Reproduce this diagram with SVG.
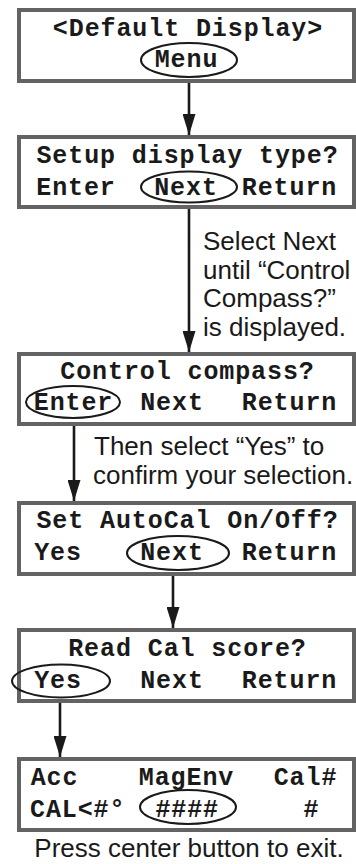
<svg xmlns="http://www.w3.org/2000/svg" width="356" height="864" viewBox="0 0 356 864">
<style>
.box{fill:#fff;stroke:#636363;stroke-width:4}
.sel{fill:none;stroke:#1a1a1a;stroke-width:2}
.m{font-family:"Liberation Mono",monospace;font-weight:bold;font-size:25px;letter-spacing:0.9px;fill:#1a1a1a;text-anchor:middle}
.ms{text-anchor:start}
.h{font-family:"Liberation Sans",Arial,sans-serif;font-size:26px;fill:#1a1a1a}
.conn line{stroke:#1a1a1a;stroke-width:2.6}
</style>
<defs>
<marker id="ah" markerUnits="userSpaceOnUse" markerWidth="22" markerHeight="13" refX="21" refY="6.5" orient="auto">
<path d="M0,0 L21,6.5 L0,13 z" fill="#1a1a1a"/>
</marker>
</defs>
<rect width="356" height="864" fill="#fff"/>
<g id="n1">
<rect class="box" x="19" y="10" width="335" height="71"/>
<text class="m" x="188" y="36">&lt;Default Display&gt;</text>
<ellipse class="sel" cx="189" cy="60" rx="48" ry="17"/>
<text class="m" x="186.5" y="67">Menu</text>
</g>
<g id="n2">
<rect class="box" x="19" y="137" width="335" height="70"/>
<text class="m" x="187.5" y="163">Setup display type?</text>
<text class="m" x="76" y="195">Enter</text>
<ellipse class="sel" cx="189" cy="187" rx="48" ry="15.5"/>
<text class="m" x="186" y="195">Next</text>
<text class="m" x="289.5" y="195">Return</text>
</g>
<g id="n3">
<rect class="box" x="19" y="354" width="335" height="70"/>
<text class="m" x="187.5" y="379">Control compass?</text>
<ellipse class="sel" cx="73" cy="402" rx="47" ry="16"/>
<text class="m" x="73.5" y="410">Enter</text>
<text class="m" x="172" y="410">Next</text>
<text class="m" x="289.5" y="410">Return</text>
</g>
<g id="n4">
<rect class="box" x="19" y="503" width="335" height="71"/>
<text class="m" x="187.5" y="528">Set AutoCal On/Off?</text>
<text class="m" x="58" y="560">Yes</text>
<ellipse class="sel" cx="178" cy="553" rx="51" ry="17"/>
<text class="m" x="172" y="560">Next</text>
<text class="m" x="289.5" y="560">Return</text>
</g>
<g id="n5">
<rect class="box" x="19" y="630" width="335" height="71"/>
<text class="m" x="187.5" y="656">Read Cal score?</text>
<ellipse class="sel" cx="61" cy="681" rx="49" ry="16.5"/>
<text class="m" x="58" y="688">Yes</text>
<text class="m" x="172" y="688">Next</text>
<text class="m" x="289.5" y="688">Return</text>
</g>
<g id="n6">
<rect class="box" x="19" y="759" width="335" height="71"/>
<text class="m" x="54.5" y="785">Acc</text>
<text class="m" x="186.5" y="785">MagEnv</text>
<text class="m" x="305.5" y="785">Cal#</text>
<text class="m ms" x="30" y="817">CAL&lt;#°</text>
<ellipse class="sel" cx="188" cy="807" rx="48" ry="17"/>
<text class="m" x="187.2" y="817">####</text>
<text class="m" x="311.5" y="817">#</text>
</g>
<g id="notes">
<text class="h" x="203" y="250">Select Next</text>
<text class="h" x="203" y="278.5">until “Control</text>
<text class="h" x="203" y="307">Compass?”</text>
<text class="h" x="203" y="335.5">is displayed.</text>
<text class="h" x="94" y="455">Then select “Yes” to</text>
<text class="h" x="93" y="483.5">confirm your selection.</text>
<text class="h" x="189" y="857" text-anchor="middle">Press center button to exit.</text>
</g>
<g id="connectors" class="conn">
<line x1="189" y1="83" x2="189" y2="135" marker-end="url(#ah)"/>
<line x1="189" y1="209" x2="189" y2="352" marker-end="url(#ah)"/>
<line x1="74" y1="426" x2="74" y2="501" marker-end="url(#ah)"/>
<line x1="173" y1="576" x2="173" y2="628" marker-end="url(#ah)"/>
<line x1="60" y1="703" x2="60" y2="757" marker-end="url(#ah)"/>
</g>
</svg>
